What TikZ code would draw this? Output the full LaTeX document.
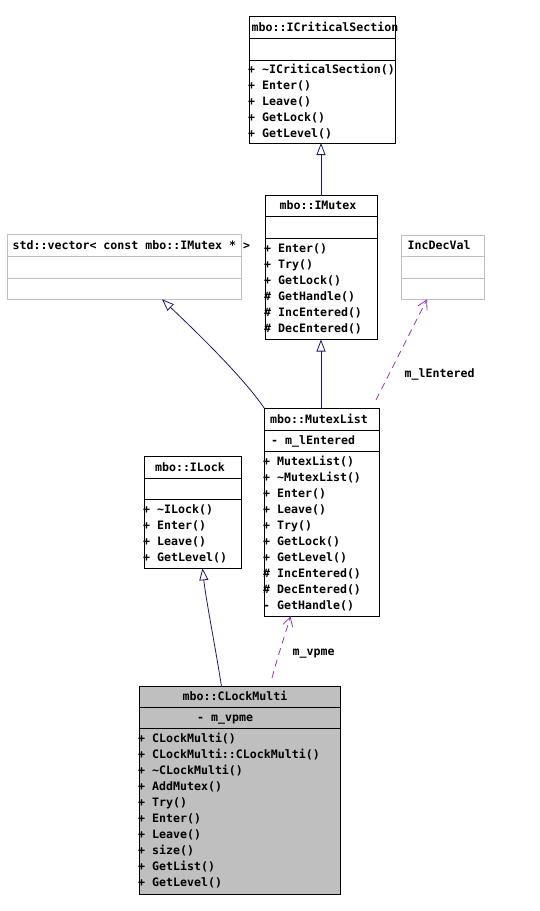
\documentclass[tikz,border=0pt]{standalone}
\usepackage{fontspec}
\newfontfamily\dxfont{DejaVu Sans Mono}
\usetikzlibrary{arrows.meta}
\definecolor{edgeblue}{HTML}{191970}
\definecolor{usepurple}{HTML}{9A32CD}
\definecolor{boxgrey}{HTML}{BFBFBF}
\tikzset{
  classbox/.style={draw, line width=0.8pt, inner sep=0pt, outer sep=0pt},
  greybox/.style={draw=boxgrey, line width=0.8pt, inner sep=0pt, outer sep=0pt},
  member/.style={anchor=base west, inner sep=0pt, font=\dxfont\bfseries\fontsize{11.6}{14}\selectfont},
  classname/.style={anchor=base, inner sep=0pt, font=\dxfont\bfseries\fontsize{11.6}{14}\selectfont},
  inherit/.style={draw=edgeblue, line width=0.8pt, -{Triangle[open,length=12pt,width=9pt]}},
  usage/.style={draw=usepurple, line width=0.8pt, dash pattern=on 7pt off 5pt, -{Straight Barb[length=9pt,width=10pt]}},
}
\begin{document}
\begin{tikzpicture}[x=1pt,y=-1pt]
\useasboundingbox (0,0) rectangle (540,911);
% boxes
\node[classbox, minimum width=146pt, minimum height=127pt] (crit) at (322,79.5) {};
\node[classbox, minimum width=112pt, minimum height=144pt] (imutex) at (321,267.5) {};
\node[greybox, minimum width=234pt, minimum height=65pt] (vecbox) at (124.3,266.8) {};
\node[greybox, minimum width=83pt, minimum height=64pt] (incdec) at (443,267.5) {};
\node[classbox, minimum width=115pt, minimum height=208pt] (mlist) at (321.8,512.2) {};
\node[classbox, minimum width=97pt, minimum height=112pt] (ilock) at (192.4,512.5) {};
\node[classbox, fill=boxgrey, minimum width=201pt, minimum height=208pt] (cmulti) at (240,790.5) {};
% row lines
\draw[line width=0.8pt] (249,38) -- (395,38);
\draw[line width=0.8pt] (249,60) -- (395,60);
\draw[line width=0.8pt] (265,216) -- (377,216);
\draw[line width=0.8pt] (265,238) -- (377,238);
\draw[line width=0.8pt, boxgrey] (7.3,256.7) -- (241.3,256.7);
\draw[line width=0.8pt, boxgrey] (7.3,278.3) -- (241.3,278.3);
\draw[line width=0.8pt, boxgrey] (401.5,256.7) -- (484.5,256.7);
\draw[line width=0.8pt, boxgrey] (401.5,278.3) -- (484.5,278.3);
\draw[line width=0.8pt] (264.3,430.5) -- (379.3,430.5);
\draw[line width=0.8pt] (264.3,451.5) -- (379.3,451.5);
\draw[line width=0.8pt] (144,478.5) -- (240.8,478.5);
\draw[line width=0.8pt] (144,499.3) -- (240.8,499.3);
\draw[line width=0.8pt] (139.5,707.7) -- (340.5,707.7);
\draw[line width=0.8pt] (139.5,728.7) -- (340.5,728.7);
% mbo::ICriticalSection
\node[classname] (crit-t) at (325,31) {mbo::ICriticalSection};
\node[member] (crit-1) at (248,73) {+ \textasciitilde{}ICriticalSection()};
\node[member] (crit-2) at (248,89) {+ Enter()};
\node[member] (crit-3) at (248,105) {+ Leave()};
\node[member] (crit-4) at (248,121) {+ GetLock()};
\node[member] (crit-5) at (248,137) {+ GetLevel()};
% mbo::IMutex
\node[classname] (imutex-t) at (318,209.5) {mbo::IMutex};
\node[member] (imutex-1) at (264,252) {+ Enter()};
\node[member] (imutex-2) at (264,268) {+ Try()};
\node[member] (imutex-3) at (264,284) {+ GetLock()};
\node[member] (imutex-4) at (264,300) {\# GetHandle()};
\node[member] (imutex-5) at (264,316) {\# IncEntered()};
\node[member] (imutex-6) at (264,332) {\# DecEntered()};
% std::vector and IncDecVal
\node[member] (vecbox-t) at (12.5,249.5) {std::vector< const mbo::IMutex * >};
\node[member] (incdec-t) at (407.5,249.5) {IncDecVal};
% mbo::MutexList
\node[classname] (mlist-t) at (319,423) {mbo::MutexList};
\node[member] (mlist-a) at (271,444.5) {- m\_lEntered};
\node[member] (mlist-1) at (263,465) {+ MutexList()};
\node[member] (mlist-2) at (263,481) {+ \textasciitilde{}MutexList()};
\node[member] (mlist-3) at (263,497) {+ Enter()};
\node[member] (mlist-4) at (263,513) {+ Leave()};
\node[member] (mlist-5) at (263,529) {+ Try()};
\node[member] (mlist-6) at (263,545) {+ GetLock()};
\node[member] (mlist-7) at (263,561) {+ GetLevel()};
\node[member] (mlist-8) at (263,577) {\# IncEntered()};
\node[member] (mlist-9) at (263,593) {\# DecEntered()};
\node[member] (mlist-10) at (263,609) {- GetHandle()};
% mbo::ILock
\node[classname] (ilock-t) at (190,471) {mbo::ILock};
\node[member] (ilock-1) at (143,513) {+ \textasciitilde{}ILock()};
\node[member] (ilock-2) at (143,529) {+ Enter()};
\node[member] (ilock-3) at (143,545) {+ Leave()};
\node[member] (ilock-4) at (143,561) {+ GetLevel()};
% mbo::CLockMulti
\node[classname] (cmulti-t) at (235,700.5) {mbo::CLockMulti};
\node[member] (cmulti-a) at (197,721.5) {- m\_vpme};
\node[member] (cmulti-1) at (138,742) {+ CLockMulti()};
\node[member] (cmulti-2) at (138,758) {+ CLockMulti::CLockMulti()};
\node[member] (cmulti-3) at (138,774) {+ \textasciitilde{}CLockMulti()};
\node[member] (cmulti-4) at (138,790) {+ AddMutex()};
\node[member] (cmulti-5) at (138,806) {+ Try()};
\node[member] (cmulti-6) at (138,822) {+ Enter()};
\node[member] (cmulti-7) at (138,838) {+ Leave()};
\node[member] (cmulti-8) at (138,854) {+ size()};
\node[member] (cmulti-9) at (138,870) {+ GetList()};
\node[member] (cmulti-10) at (138,886) {+ GetLevel()};
% edge ends
\coordinate (vecin) at (162,299.3);
\coordinate (incin) at (427,299.3);
\coordinate (ilockin) at (202.5,568.3);
\coordinate (mlistin) at (290.5,616.3);
\coordinate (incout) at (376,400);
\coordinate (cmout) at (221.5,686.5);
\coordinate (vpmeout) at (272,678);
% edges
\draw[inherit] (imutex.north) -- (imutex.north |- crit.south);
\draw[inherit] (mlist.north -| imutex.south) -- (imutex.south);
\draw[inherit] (mlist.north west) .. controls (245,380) and (205,340) .. (vecin);
\draw[inherit] (cmout) .. controls (215,645) and (206,600) .. (ilockin);
\draw[usage] (incout) -- (incin);
\draw[usage] (vpmeout) .. controls (278,655) and (286,632) .. (mlistin);
\node[member] (lentered) at (404.5,377) {m\_lEntered};
\node[member] (vpme) at (292.5,655) {m\_vpme};
\end{tikzpicture}
\end{document}
